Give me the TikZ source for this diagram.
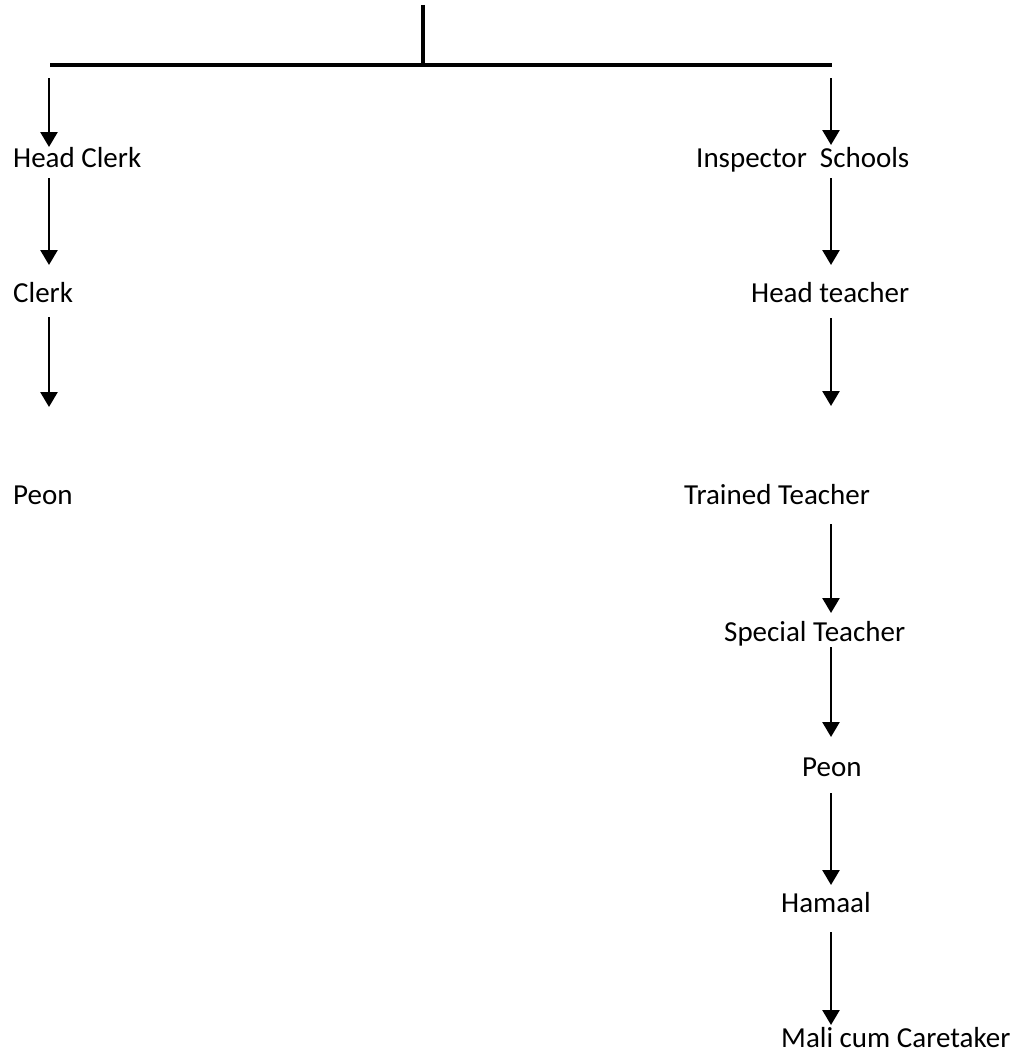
\documentclass[tikz,border=0pt]{standalone}
\usepackage{fontspec}
\setmainfont{Carlito}
\usetikzlibrary{arrows.meta}
\begin{document}
\begin{tikzpicture}[x=1pt,y=-1pt,
  lbl/.style={anchor=base west,inner sep=0pt,font=\fontsize{29}{31}\selectfont},
  arr/.style={line width=2.6pt,-{Triangle[width=17pt,length=15pt]}},
  bar/.style={line width=3.3pt}]
\useasboundingbox (0,0) rectangle (1022,1057);
% text nodes
\node[lbl] (hc) at (13,167) {Head Clerk};
\node[lbl] (cl) at (13,302) {Clerk};
\node[lbl] (pl) at (13,504) {Peon};
\node[lbl] (is) at (696,167) {Inspector\ \ Schools};
\node[lbl] (ht) at (751,302) {Head teacher};
\node[lbl] (tt) at (684,504) {Trained Teacher};
\node[lbl] (st) at (724,641) {Special Teacher};
\node[lbl] (pr) at (802,776) {Peon};
\node[lbl] (hm) at (781,912) {Hamaal};
\node[lbl] (mc) at (781,1047) {Mali cum Caretaker};
% tree top
\coordinate (top) at (423,5);
\coordinate (jn) at (423,65);
\coordinate (hl) at (50,65);
\coordinate (hr) at (832,65);
\draw[line width=3.2pt] (top) -- (jn);
\draw[bar] (hl) -- (hr);
% left column arrows
\coordinate (l1a) at (49,78);  \coordinate (l1b) at (49,147);
\coordinate (l2a) at (49,178); \coordinate (l2b) at (49,265);
\coordinate (l3a) at (49,317); \coordinate (l3b) at (49,407);
\draw[arr] (l1a) -- (l1b);
\draw[arr] (l2a) -- (l2b);
\draw[arr] (l3a) -- (l3b);
% right column arrows
\coordinate (r1a) at (831,78);  \coordinate (r1b) at (831,145);
\coordinate (r2a) at (831,178); \coordinate (r2b) at (831,265);
\coordinate (r3a) at (831,318); \coordinate (r3b) at (831,406);
\coordinate (r4a) at (831,524); \coordinate (r4b) at (831,613);
\coordinate (r5a) at (831,647); \coordinate (r5b) at (831,737);
\coordinate (r6a) at (831,793); \coordinate (r6b) at (831,885);
\coordinate (r7a) at (831,932); \coordinate (r7b) at (831,1025);
\draw[arr] (r1a) -- (r1b);
\draw[arr] (r2a) -- (r2b);
\draw[arr] (r3a) -- (r3b);
\draw[arr] (r4a) -- (r4b);
\draw[arr] (r5a) -- (r5b);
\draw[arr] (r6a) -- (r6b);
\draw[arr] (r7a) -- (r7b);
\end{tikzpicture}
\end{document}
